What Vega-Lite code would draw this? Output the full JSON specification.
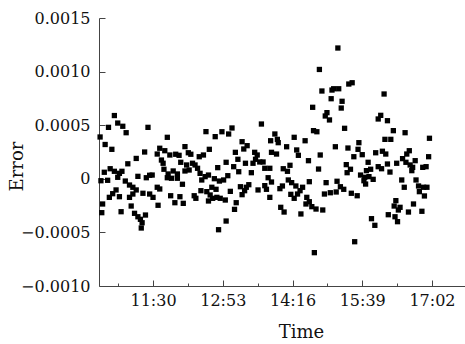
{
  "$schema": "https://vega.github.io/schema/vega-lite/v6.json",
  "width": 366,
  "height": 268,
  "autosize": {"type": "none"},
  "padding": {"left": 99, "top": 18, "right": 0, "bottom": 58},
  "background": "white",
  "config": {"view": {"stroke": null}, "font": "DejaVu Serif"},
  "data": {
    "format": {"parse": {"t": "date:'%H:%M'"}},
    "values": [
      {"t":"10:44","err":0.00059},{"t":"10:37","err":0.00048},{"t":"10:48","err":0.00052},{"t":"10:54","err":0.00049},
      {"t":"10:58","err":0.00043},{"t":"11:24","err":0.00048},{"t":"10:27","err":0.00039},{"t":"10:33","err":0.00032},
      {"t":"10:41","err":0.000275},{"t":"11:20","err":0.00025},{"t":"11:10","err":0.00019},{"t":"11:00","err":0.00014},
      {"t":"10:39","err":0.000094},{"t":"10:32","err":0.000061},{"t":"10:44","err":0.00007},{"t":"10:50","err":0.000051},
      {"t":"10:53","err":0.00007},{"t":"10:48","err":0.000014},{"t":"10:36","err":-0.000014},{"t":"10:28","err":-0.000018},
      {"t":"10:57","err":-0.000021},{"t":"11:12","err":0.000023},{"t":"11:22","err":0.00001},{"t":"11:26","err":0.000033},
      {"t":"11:29","err":0.000035},{"t":"11:02","err":-0.000058},{"t":"11:06","err":-0.000079},{"t":"11:10","err":-0.000104},
      {"t":"10:46","err":-0.000104},{"t":"10:42","err":-0.000139},{"t":"10:38","err":-0.000173},{"t":"10:50","err":-0.000167},
      {"t":"11:06","err":-0.000142},{"t":"11:02","err":-0.000173},{"t":"11:18","err":-0.000135},{"t":"11:26","err":-0.000142},
      {"t":"11:30","err":-0.000173},{"t":"10:30","err":-0.000235},{"t":"11:04","err":-0.000254},{"t":"10:29","err":-0.000316},
      {"t":"10:52","err":-0.000307},{"t":"11:08","err":-0.000322},{"t":"11:12","err":-0.000354},{"t":"11:21","err":-0.000338},
      {"t":"11:15","err":-0.000378},{"t":"11:17","err":-0.00041},{"t":"11:16","err":-0.000459},

      {"t":"12:33","err":0.00044},{"t":"11:47","err":0.000387},{"t":"11:38","err":0.000285},{"t":"11:44","err":0.000262},
      {"t":"12:08","err":0.0003},{"t":"12:12","err":0.000243},{"t":"12:15","err":0.000229},{"t":"11:35","err":0.000231},
      {"t":"11:50","err":0.000222},{"t":"11:57","err":0.000229},{"t":"12:01","err":0.000219},{"t":"12:25","err":0.000206},
      {"t":"12:30","err":0.000222},{"t":"12:37","err":0.000275},{"t":"11:40","err":0.000175},{"t":"11:42","err":0.000145},
      {"t":"12:03","err":0.000154},{"t":"12:10","err":0.000129},{"t":"12:17","err":0.000145},{"t":"12:20","err":0.000129},
      {"t":"12:23","err":0.000098},{"t":"11:43","err":0.000089},{"t":"11:54","err":0.000073},{"t":"12:08","err":0.000073},
      {"t":"12:13","err":0.000082},{"t":"11:48","err":0.000045},{"t":"11:59","err":0.000045},{"t":"12:26","err":0.000051},
      {"t":"12:32","err":0.00002},{"t":"12:36","err":0.000035},{"t":"11:47","err":0.00001},{"t":"11:52","err":0.000005},
      {"t":"11:59","err":0.000005},{"t":"12:28","err":-0.000011},{"t":"12:05","err":-0.000051},{"t":"11:35","err":-0.000079},
      {"t":"11:38","err":-0.000095},{"t":"12:40","err":-0.000079},{"t":"12:27","err":-0.000111},{"t":"12:34","err":-0.00012},
      {"t":"11:51","err":-0.000158},{"t":"12:02","err":-0.000167},{"t":"12:19","err":-0.000158},{"t":"12:21","err":-0.000182},
      {"t":"12:38","err":-0.000151},{"t":"12:36","err":-0.000207},{"t":"12:41","err":-0.000182},{"t":"11:56","err":-0.000223},
      {"t":"12:06","err":-0.000229},{"t":"11:36","err":-0.000247},

      {"t":"13:39","err":0.000511},{"t":"13:04","err":0.000474},{"t":"12:52","err":0.000439},{"t":"13:00","err":0.000418},
      {"t":"12:44","err":0.000393},{"t":"13:16","err":0.000346},{"t":"13:22","err":0.000309},{"t":"13:18","err":0.000278},
      {"t":"13:50","err":0.000355},{"t":"13:08","err":0.000247},{"t":"13:31","err":0.000247},{"t":"13:34","err":0.000222},
      {"t":"13:51","err":0.000247},{"t":"13:11","err":0.000182},{"t":"13:32","err":0.000182},{"t":"13:20","err":0.000145},
      {"t":"13:29","err":0.000145},{"t":"13:37","err":0.000157},{"t":"13:41","err":0.000157},{"t":"12:57","err":0.000154},
      {"t":"13:06","err":0.000113},{"t":"12:47","err":0.000104},{"t":"13:43","err":0.000098},{"t":"13:49","err":0.000098},
      {"t":"13:12","err":0.000066},{"t":"13:27","err":0.000057},{"t":"12:59","err":0.000029},{"t":"12:43","err":0.000001},
      {"t":"12:49","err":-0.000021},{"t":"12:54","err":-0.000011},{"t":"13:47","err":0.00001},{"t":"13:51","err":-0.00003},
      {"t":"13:14","err":-0.000074},{"t":"13:24","err":-0.000055},{"t":"13:21","err":-0.000079},{"t":"13:43","err":-0.000064},
      {"t":"13:45","err":-0.000098},{"t":"13:35","err":-0.000104},{"t":"12:45","err":-0.000098},{"t":"13:02","err":-0.000117},
      {"t":"13:19","err":-0.000111},{"t":"13:16","err":-0.000148},{"t":"12:46","err":-0.000173},{"t":"12:50","err":-0.000182},
      {"t":"12:56","err":-0.000198},{"t":"13:49","err":-0.000173},{"t":"13:09","err":-0.000223},{"t":"13:07","err":-0.000285},
      {"t":"12:57","err":-0.000394},{"t":"12:48","err":-0.000475},

      {"t":"14:51","err":0.000819},{"t":"14:40","err":0.000667},{"t":"14:57","err":0.000617},{"t":"14:55","err":0.000586},
      {"t":"15:00","err":0.000549},{"t":"14:41","err":0.000449},{"t":"14:45","err":0.000439},{"t":"13:55","err":0.000418},
      {"t":"14:18","err":0.000387},{"t":"13:58","err":0.000368},{"t":"13:59","err":0.000337},{"t":"14:31","err":0.000355},
      {"t":"14:09","err":0.000299},{"t":"14:21","err":0.000269},{"t":"13:57","err":0.000231},{"t":"14:23","err":0.000219},
      {"t":"14:49","err":0.000222},{"t":"14:35","err":0.000169},{"t":"14:13","err":0.000126},{"t":"14:05","err":0.000094},
      {"t":"14:10","err":0.00007},{"t":"14:47","err":0.000091},{"t":"14:11","err":-0.000011},{"t":"14:15","err":-0.000036},
      {"t":"14:20","err":-0.000067},{"t":"14:36","err":-0.000027},{"t":"14:56","err":-0.000036},{"t":"14:28","err":-0.000079},
      {"t":"14:25","err":-0.000111},{"t":"14:04","err":-0.000067},{"t":"14:01","err":-0.000092},{"t":"14:54","err":-0.000142},
      {"t":"14:14","err":-0.000145},{"t":"14:18","err":-0.000182},{"t":"14:22","err":-0.000142},{"t":"14:33","err":-0.000173},
      {"t":"14:36","err":-0.000214},{"t":"14:32","err":-0.000235},{"t":"14:39","err":-0.00026},{"t":"14:44","err":-0.000282},
      {"t":"14:52","err":-0.000291},{"t":"14:02","err":-0.000266},{"t":"14:06","err":-0.00031},{"t":"14:26","err":-0.000328},
      {"t":"14:42","err":-0.000689},{"t":"14:48","err":0.00102},

      {"t":"15:10","err":0.00122},{"t":"15:27","err":0.000896},{"t":"15:23","err":0.000884},{"t":"15:05","err":0.00084},
      {"t":"15:11","err":0.00084},{"t":"15:03","err":0.000828},{"t":"15:02","err":0.000747},{"t":"15:15","err":0.000723},
      {"t":"15:14","err":0.00066},{"t":"16:05","err":0.000791},{"t":"16:01","err":0.000592},{"t":"15:58","err":0.000558},
      {"t":"16:09","err":0.000542},{"t":"15:18","err":0.000471},{"t":"15:07","err":0.000299},{"t":"15:22","err":0.000287},
      {"t":"15:35","err":0.000337},{"t":"15:34","err":0.000275},{"t":"16:06","err":0.000368},{"t":"15:29","err":0.000206},
      {"t":"15:39","err":0.000225},{"t":"15:55","err":0.000243},{"t":"16:03","err":0.000257},{"t":"16:07","err":0.000231},
      {"t":"15:46","err":0.000154},{"t":"15:20","err":0.000132},{"t":"16:09","err":0.000138},{"t":"15:58","err":0.000113},
      {"t":"16:02","err":0.000094},{"t":"15:25","err":0.000089},{"t":"15:21","err":0.000057},{"t":"15:49","err":0.000089},
      {"t":"15:44","err":0.000076},{"t":"15:37","err":0.000035},{"t":"15:42","err":0.000014},{"t":"15:47","err":0.00002},
      {"t":"15:52","err":-0.000005},{"t":"15:41","err":-0.000018},{"t":"15:43","err":-0.000049},{"t":"15:09","err":-0.000023},
      {"t":"15:13","err":-0.000074},{"t":"15:17","err":-0.000098},{"t":"15:01","err":-0.00013},{"t":"15:08","err":-0.000123},
      {"t":"15:26","err":-0.000135},{"t":"15:33","err":-0.000158},{"t":"16:10","err":-0.000335},{"t":"15:50","err":-0.000372},
      {"t":"15:54","err":-0.000434},{"t":"15:30","err":-0.000587},

      {"t":"16:16","err":0.000449},{"t":"16:13","err":0.000368},{"t":"16:30","err":0.00043},{"t":"16:59","err":0.000378},
      {"t":"16:35","err":0.000262},{"t":"16:32","err":0.000231},{"t":"16:58","err":0.000206},{"t":"16:27","err":0.000188},
      {"t":"16:42","err":0.000169},{"t":"16:20","err":0.000145},{"t":"16:31","err":0.000154},{"t":"16:36","err":0.000129},
      {"t":"16:39","err":0.000107},{"t":"16:51","err":0.000107},{"t":"16:55","err":0.000113},{"t":"16:12","err":0.000063},
      {"t":"16:38","err":0.000076},{"t":"16:26","err":-0.000011},{"t":"16:43","err":-0.000011},{"t":"16:29","err":-0.000079},
      {"t":"16:46","err":-0.000067},{"t":"16:56","err":-0.000079},{"t":"16:52","err":-0.000079},{"t":"16:47","err":-0.00012},
      {"t":"16:53","err":-0.00016},{"t":"16:19","err":-0.000204},{"t":"16:40","err":-0.000235},{"t":"16:17","err":-0.000254},
      {"t":"16:24","err":-0.000266},{"t":"16:22","err":-0.000291},{"t":"16:34","err":-0.00031},{"t":"16:50","err":-0.000303},
      {"t":"16:18","err":-0.000354},{"t":"16:21","err":-0.0004}
    ]
  },
  "mark": {"type": "point", "shape": "square", "filled": true, "color": "#000000", "size": 28, "opacity": 1, "strokeWidth": 0},
  "encoding": {
    "x": {
      "field": "t",
      "type": "temporal",
      "scale": {"domain": [
        {"year": 1900, "month": 1, "date": 1, "hours": 10, "minutes": 25, "seconds": 42},
        {"year": 1900, "month": 1, "date": 1, "hours": 17, "minutes": 41, "seconds": 18}
      ]},
      "axis": {
        "title": "Time",
        "grid": false,
        "values": [
          {"year": 1900, "month": 1, "date": 1, "hours": 10, "minutes": 48, "seconds": 30},
          {"year": 1900, "month": 1, "date": 1, "hours": 11, "minutes": 30},
          {"year": 1900, "month": 1, "date": 1, "hours": 12, "minutes": 11, "seconds": 30},
          {"year": 1900, "month": 1, "date": 1, "hours": 12, "minutes": 53},
          {"year": 1900, "month": 1, "date": 1, "hours": 13, "minutes": 34, "seconds": 30},
          {"year": 1900, "month": 1, "date": 1, "hours": 14, "minutes": 16},
          {"year": 1900, "month": 1, "date": 1, "hours": 14, "minutes": 57, "seconds": 30},
          {"year": 1900, "month": 1, "date": 1, "hours": 15, "minutes": 39},
          {"year": 1900, "month": 1, "date": 1, "hours": 16, "minutes": 20, "seconds": 30},
          {"year": 1900, "month": 1, "date": 1, "hours": 17, "minutes": 2}
        ],
        "labelExpr": "seconds(datum.value) == 30 ? '' : timeFormat(datum.value, '%H:%M')",
        "tickSize": {"condition": {"test": "seconds(datum.value) == 30", "value": -3}, "value": -6},
        "labelPadding": 12,
        "labelFontSize": 16,
        "labelColor": "#111111",
        "labelFlush": false,
        "labelOverlap": false,
        "domainColor": "#444444",
        "tickColor": "#444444",
        "titleFontSize": 18,
        "titleFontWeight": "normal",
        "titleColor": "#111111",
        "titleX": 202,
        "titleY": 51,
        "titleBaseline": "alphabetic",
        "titleAlign": "center"
      }
    },
    "y": {
      "field": "err",
      "type": "quantitative",
      "scale": {"domain": [-0.001, 0.0015], "nice": false, "zero": false},
      "axis": {
        "title": "Error",
        "grid": false,
        "values": [-0.001, -0.0005, 0, 0.0005, 0.001, 0.0015],
        "labelExpr": "datum.value == 0 ? '0' : format(datum.value, '.4f')",
        "tickSize": -6,
        "labelPadding": 15,
        "labelFontSize": 16,
        "labelColor": "#111111",
        "labelFlush": false,
        "labelOverlap": false,
        "domainColor": "#444444",
        "tickColor": "#444444",
        "titleFontSize": 18,
        "titleFontWeight": "normal",
        "titleColor": "#111111",
        "titleAngle": -90,
        "titleX": -77,
        "titleY": 148,
        "titleBaseline": "alphabetic",
        "titleAlign": "center"
      }
    }
  }
}
